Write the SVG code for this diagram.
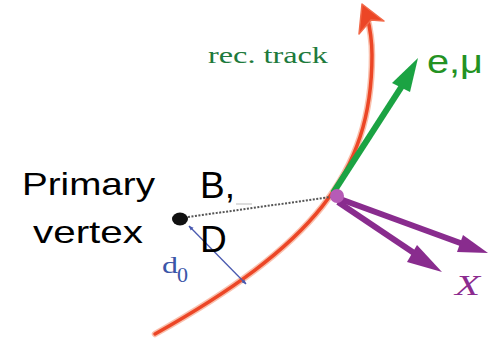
<svg xmlns="http://www.w3.org/2000/svg" width="489" height="338" viewBox="0 0 489 338">
<style>
.sans{font-family:"Liberation Sans",Arial,sans-serif}
.serif{font-family:"Liberation Serif","Times New Roman",serif}
.track{fill:none;stroke-linecap:round}
.purple{stroke:#892c8e;stroke-width:6;stroke-linecap:butt}
</style>
<defs>
<marker id="bl" viewBox="0 0 10 10" refX="9" refY="5" markerWidth="5" markerHeight="5" orient="auto-start-reverse" markerUnits="userSpaceOnUse">
<path d="M0,1 L10,5 L0,9 z" fill="#4a5ab0"/>
</marker>
</defs>
<g id="connectors">
<g id="track">
<path class="track" d="M155,334 C311.6,245.8 372,175 372,55 C372,38 370,28 367,16" stroke="#f7a58a" stroke-width="6.5" opacity="0.7"/>
<path class="track" d="M155,334 C311.6,245.8 372,175 372,55 C372,38 370,28 367,16" stroke="#ec4626" stroke-width="3.5"/>
<polygon points="362,4 384,21 371,20 359,34" fill="#ec4626" stroke="#f26a4a" stroke-width="1.5" stroke-linejoin="round"/>
</g>
<line id="flight" x1="188" y1="217" x2="331" y2="197" stroke="#555" stroke-width="2" stroke-dasharray="2,1.5"/>
<line x1="236" y1="204" x2="252" y2="204" stroke="#aaa" stroke-width="0.8"/>
<line id="d0" x1="189" y1="226" x2="246" y2="284" stroke="#4a5ab0" stroke-width="1.3" marker-start="url(#bl)" marker-end="url(#bl)"/>
<g id="lepton">
<line x1="333" y1="193" x2="402" y2="86" stroke="#1ba343" stroke-width="6"/>
<polygon points="418,58 392,83 410,92" fill="#1ba343"/>
</g>
<g id="xarrows">
<line class="purple" x1="340" y1="199" x2="463" y2="244"/>
<polygon points="488,253 463,235 457,252" fill="#892c8e"/>
<line class="purple" x1="338" y1="202" x2="414" y2="253"/>
<polygon points="442,272 417,245 407,262" fill="#892c8e"/>
</g>
</g>
<g id="pv">
<ellipse cx="180" cy="219" rx="8" ry="6.5" fill="#111"/>
<text class="sans" x="22" y="195" font-size="32" textLength="133" lengthAdjust="spacingAndGlyphs">Primary</text>
<text class="sans" x="33" y="243" font-size="32" textLength="110" lengthAdjust="spacingAndGlyphs">vertex</text>
</g>
<g id="sv">
<circle cx="337" cy="196" r="7" fill="#b65bb6"/>
</g>
<g id="labels">
<text class="serif" x="208" y="63" font-size="24" fill="#1e7a3c" textLength="120" lengthAdjust="spacingAndGlyphs">rec. track</text>
<text class="sans" x="427" y="73" font-size="33" fill="#239223" textLength="56" lengthAdjust="spacingAndGlyphs">e,μ</text>
<text class="sans" x="200" y="198" font-size="37">B,</text>
<text class="sans" x="200" y="252" font-size="37">D</text>
<text class="serif" x="162" y="273" font-size="24" fill="#3b56a8" textLength="16" lengthAdjust="spacingAndGlyphs">d</text>
<text class="serif" x="177" y="282" font-size="21" fill="#3b56a8" textLength="11" lengthAdjust="spacingAndGlyphs">0</text>
<text class="serif" x="455" y="295" font-size="30" font-style="italic" fill="#8c2b8f" textLength="25" lengthAdjust="spacingAndGlyphs">X</text>
</g>
</svg>
